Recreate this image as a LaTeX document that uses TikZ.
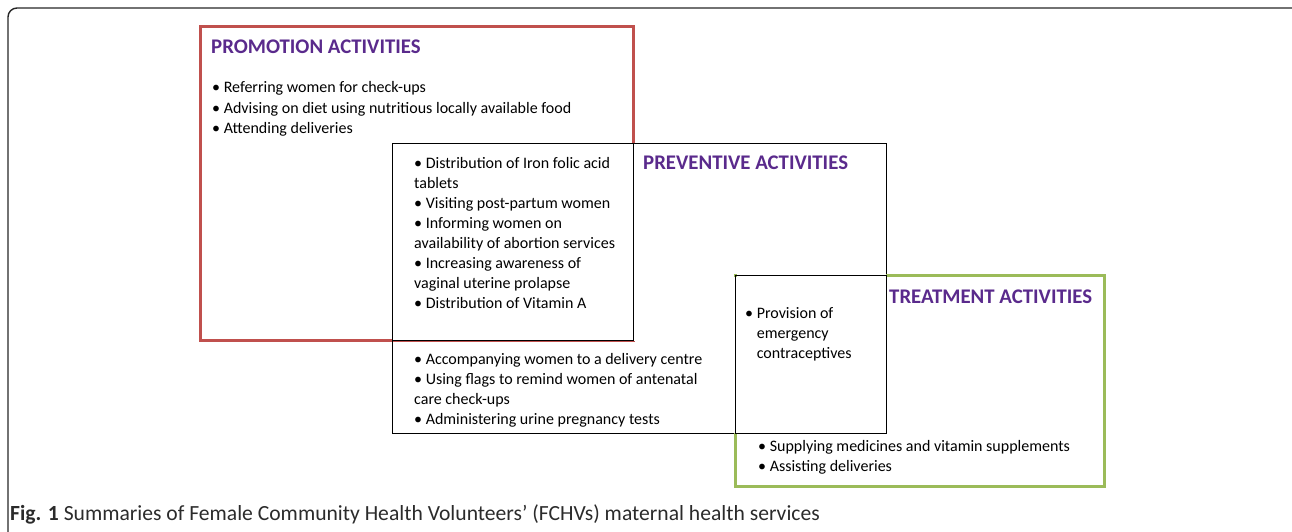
\documentclass[tikz,border=0pt]{standalone}
\usepackage{fontspec}
\setmainfont{Carlito}
\newfontfamily\capfont{Carlito}
\definecolor{promored}{HTML}{C0504D}
\definecolor{treatgreen}{HTML}{9BBB59}
\definecolor{titlepurple}{HTML}{5A2A8C}
\definecolor{capgray}{HTML}{2B2B2B}
\begin{document}
\begin{tikzpicture}[x=1pt,y=-1pt,
  body/.style={anchor=base west,inner sep=0pt,align=left,font=\fontsize{16}{20}\selectfont},
  title/.style={anchor=base west,inner sep=0pt,font=\fontsize{20.8}{24}\selectfont\bfseries,text=titlepurple},
  thinbox/.style={draw=black,line width=1pt},
  redbox/.style={draw=promored,line width=3pt},
  greenbox/.style={draw=treatgreen,line width=3pt},
  eraser/.style={draw=white,line width=3.4pt}]
\useasboundingbox (0,0) rectangle (1292,532);
\begin{scope}
\clip (0,0) rectangle (1292,532);
\draw[line width=1.4pt,rounded corners=9pt,draw=black!85] (8,8) rectangle (1304,548);
\end{scope}
% boxes
\draw[redbox] (200,27) rectangle (633,340);
\draw[thinbox] (392,143) rectangle (886,433);
\draw[greenbox] (735,275) rectangle (1104,486);
% overlap regions: hide coloured edges, redraw in black
\draw[eraser] (633,143.5) -- (633,339.5) -- (392.5,339.5);
\draw[eraser] (735.5,276.5) -- (735.5,432.5);
\draw[eraser] (736.5,275) -- (885.5,275);
\draw[thinbox] (392,143) rectangle (633,340);
\draw[thinbox] (735,275) rectangle (886,433);
% titles
\node[title] (tpro) at (211,54) {PROMOTION ACTIVITIES};
\node[title] (tpre) at (643,169) {PREVENTIVE ACTIVITIES};
\node[title] (ttre) at (889,303) {TREATMENT ACTIVITIES};
% texts (anchor = baseline of last line)
\node[body] (pro) at (212,133) {• Referring women for check-ups\\• Advising on diet using nutritious locally available food\\• Attending deliveries};
\node[body] (prepro) at (414,308) {• Distribution of Iron folic acid\\tablets\\• Visiting post-partum women\\• Informing women on\\availability of abortion services\\• Increasing awareness of\\vaginal uterine prolapse\\• Distribution of Vitamin A};
\node[body] (pre) at (414,424) {• Accompanying women to a delivery centre\\• Using flags to remind women of antenatal\\care check-ups\\• Administering urine pregnancy tests};
\node[body] (pretre) at (745,358) {• Provision of\\\phantom{• }emergency\\\phantom{• }contraceptives};
\node[body] (tre) at (758,471) {• Supplying medicines and vitamin supplements\\• Assisting deliveries};
% caption
\node[anchor=base west,inner sep=0pt,text=capgray,font=\capfont\fontsize{21.6}{24}\selectfont] (cap) at (10,520) {\textbf{Fig. 1} Summaries of Female Community Health Volunteers’ (FCHVs) maternal health services};
\end{tikzpicture}
\end{document}
